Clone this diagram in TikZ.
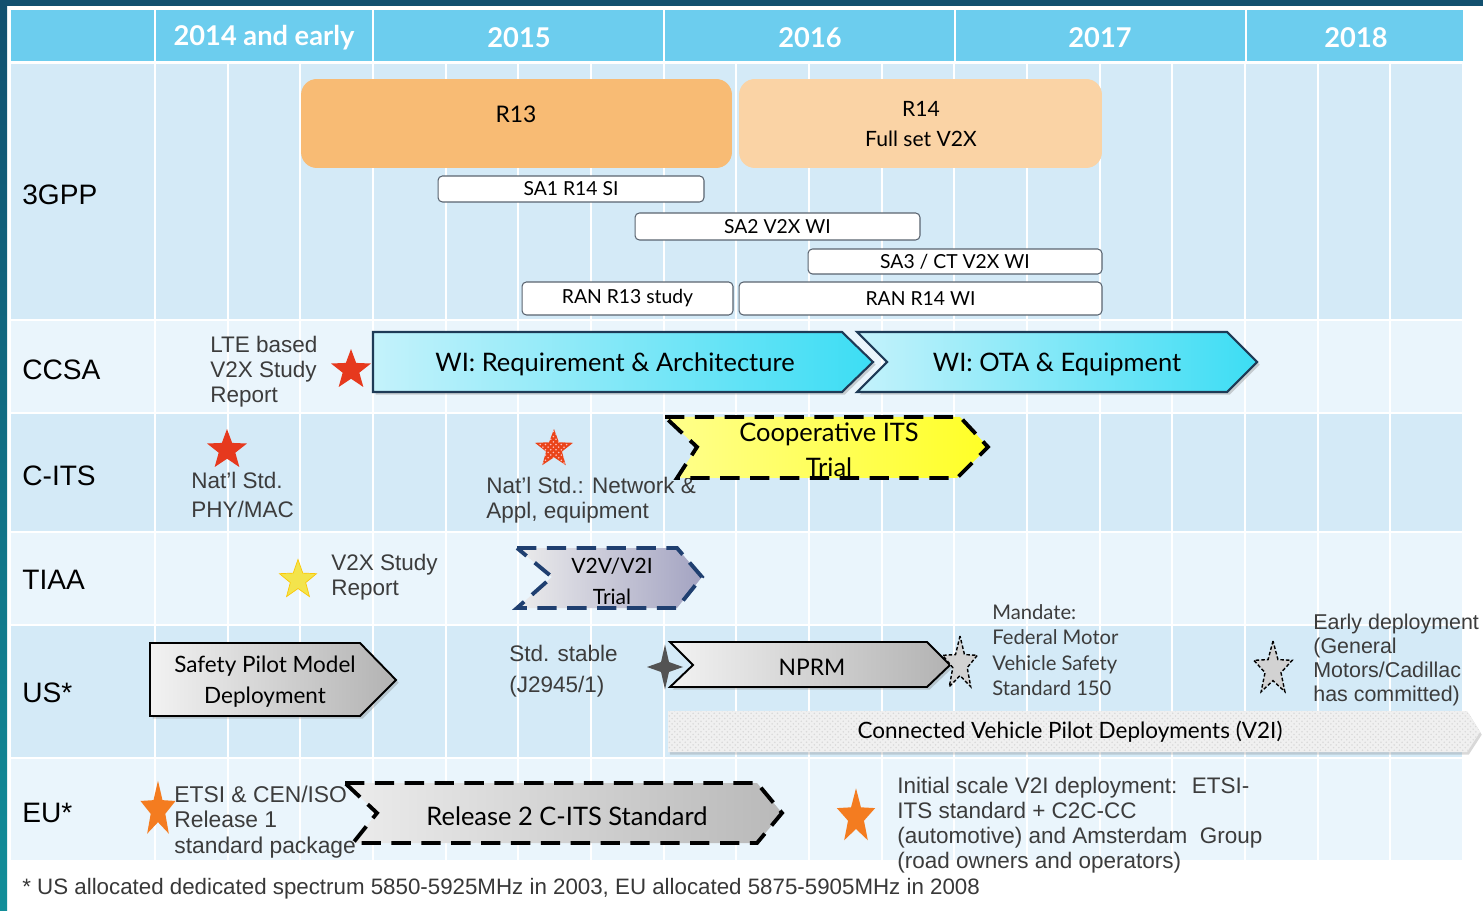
\documentclass[tikz,border=0pt]{standalone}
\usepackage{fontspec}
\setmainfont{Liberation Sans}
\newfontfamily\lato{Lato}
\usetikzlibrary{shapes.geometric,patterns,shadows}

\definecolor{framedark}{HTML}{12506F}
\definecolor{frameteal}{HTML}{128E99}
\definecolor{hdrblue}{HTML}{6CCDEE}
\definecolor{rowdark}{HTML}{D4EAF7}
\definecolor{rowlight}{HTML}{EAF5FC}
\definecolor{relorange}{HTML}{F8BB74}
\definecolor{rellight}{HTML}{FAD3A5}
\definecolor{taskborder}{HTML}{5A6470}
\definecolor{notegray}{HTML}{3C3C3C}
\definecolor{cyanlight}{HTML}{C4F2FB}
\definecolor{cyandark}{HTML}{3CDDF4}
\definecolor{arrowborder}{HTML}{1E3A56}
\definecolor{trialnavy}{HTML}{1F3F70}
\definecolor{starred}{HTML}{E6391E}
\definecolor{starorange}{HTML}{F47C20}
\definecolor{staryellow}{HTML}{F3E44C}

\begin{document}
\begin{tikzpicture}[x=0.02cm,y=-0.02cm,
    gridline/.style={white,line width=1.2pt},
    rowlabel/.style={anchor=west,inner sep=0,font=\fontsize{16}{20}\selectfont},
    year/.style={text=white,font=\lato\bfseries\fontsize{15.5}{19}\selectfont},
    note/.style={anchor=west,align=left,inner sep=0,text=notegray,font=\fontsize{12.8}{14.2}\selectfont},
    task/.style={draw=taskborder,fill=white,rounded corners=2.5pt,line width=0.6pt,inner sep=0,font=\lato\fontsize{11}{13}\selectfont},
    release/.style={rounded corners=9pt,inner sep=0},
    bigtext/.style={font=\lato\fontsize{13}{16}\selectfont},
    cyanarrow/.style={draw=arrowborder,line width=1.2pt,left color=cyanlight,right color=cyandark,
        drop shadow={shadow xshift=1.5pt,shadow yshift=-1.5pt,opacity=.35}},
    grayarrow/.style={draw=black,line width=1.1pt,left color=gray!10,right color=gray!60,
        drop shadow={shadow xshift=1.5pt,shadow yshift=-1.5pt,opacity=.35}},
    trial/.style={line width=2.2pt,dash pattern=on 11pt off 6pt},
    fivestar/.style={star,star points=5,star point ratio=2.4,inner sep=0},
    dashstar/.style={fivestar,draw=black,dash pattern=on 2pt off 1.2pt,line width=0.8pt,fill=gray!35}]

\useasboundingbox (0,0) rectangle (1483,911);
\fill[white] (0,0) rectangle (1483,911);
\shade[top color=framedark,bottom color=frameteal] (0,0) rectangle (7,911);
\fill[framedark] (0,0) rectangle (1483,6);

% header
\fill[hdrblue] (11,10) rectangle (1463,61);
\foreach \x in {155,373,664,955,1246}
    \draw[white,line width=1.5pt] (\x,10) -- (\x,61);
\node[year] (y14) at (264,38) {2014 and early};
\node[year] (y15) at (519,38) {2015};
\node[year] (y16) at (810,38) {2016};
\node[year] (y17) at (1100,38) {2017};
\node[year] (y18) at (1356,38) {2018};

% rows and grid
\foreach \ya/\yb/\c in {64/320/rowdark,320/413/rowlight,413/532/rowdark,532/625/rowlight,625/758/rowdark,758/860/rowlight}
    \fill[\c] (11,\ya) rectangle (1463,\yb);
\foreach \y in {320,413,532,625,758}
    \draw[gridline] (11,\y) -- (1463,\y);
\foreach \k in {0,...,18}
    \draw[gridline] ({155+\k*72.67},64) -- ({155+\k*72.67},860);

\node[rowlabel] (l3gpp) at (22,195) {3GPP};
\node[rowlabel] (lccsa) at (22,370) {CCSA};
\node[rowlabel] (lcits) at (22,476) {C-ITS};
\node[rowlabel] (ltiaa) at (22,580) {TIAA};
\node[rowlabel] (lus) at (22,693) {US*};
\node[rowlabel] (leu) at (22,813) {EU*};

% 3GPP
\node[release,fill=relorange,minimum width=8.62cm,minimum height=1.78cm] (r13) at (516.5,123.5) {};
\node[bigtext] (r13txt) at (516,114) {R13};
\node[release,fill=rellight,minimum width=7.26cm,minimum height=1.78cm] (r14) at (920.5,123.5) {};
\node[align=center,font=\lato\fontsize{12}{17}\selectfont] (r14txt) at (921,124) {R14\\Full set V2X};
\node[task,minimum width=5.32cm,minimum height=0.52cm] (sa1) at (571,189) {SA1 R14 SI};
\node[task,minimum width=5.7cm,minimum height=0.54cm] (sa2) at (777.5,226.5) {SA2 V2X WI};
\node[task,minimum width=5.88cm,minimum height=0.5cm] (sa3) at (955,261.5) {SA3 / CT V2X WI};
\node[task,minimum width=4.22cm,minimum height=0.66cm] (ran13) at (627.5,298.5) {RAN R13 study};
\node[task,minimum width=7.26cm,minimum height=0.66cm] (ran14) at (920.5,298.5) {RAN R14 WI};

% CCSA
\path[cyanarrow] (373,332) -- (842,332) -- (873,362) -- (842,392) -- (373,392) -- cycle;
\path[cyanarrow] (857,332) -- (1227,332) -- (1257,362) -- (1227,392) -- (857,392) -- (887,362) -- cycle;
\node[font=\lato\fontsize{14.5}{17}\selectfont] (wireq) at (615,364) {WI: Requirement \& Architecture};
\node[font=\lato\fontsize{14.5}{17}\selectfont] (wiota) at (1057,364) {WI: OTA \& Equipment};
\node[note] (lte) at (210,372) {LTE based\\V2X Study\\Report};
\node[fivestar,fill=starred,minimum size=0.84cm] (ltestar) at (351,370) {};

% C-ITS
\node[fivestar,fill=starred,minimum size=0.84cm] (phystar) at (227,450) {};
\node[note,font=\fontsize{12.8}{17}\selectfont] (phy) at (191,495) {Nat’l Std.\\PHY/MAC};
\node[fivestar,fill=starred!85!orange,minimum size=0.8cm,postaction={pattern=crosshatch dots,pattern color=white!75!red}] (netstar) at (554,449) {};
\node[note] (net) at (486,500) {Nat’l Std.: Network \&\\Appl, equipment};
\path[trial,draw=black,left color=yellow!45,right color=yellow!85] (665,417) -- (960,417) -- (988,447) -- (957,478) -- (677,478) -- (697,447) -- cycle;
\node[align=center,font=\lato\fontsize{14.5}{19.8}\selectfont] (coop) at (829,450) {Cooperative ITS\\Trial};

% TIAA
\node[fivestar,fill=staryellow,draw=yellow!60!orange,minimum size=0.82cm,xscale=0.95] (tiaastar) at (298,580) {};
\node[note] (tiaarep) at (331,577) {V2X Study\\Report};
\path[trial,draw=trialnavy,left color=gray!15,right color=blue!20!gray!60] (517,548) -- (677,548) -- (702,577) -- (677,608) -- (517,608) -- (552,577) -- cycle;
\node[align=center,font=\lato\fontsize{12}{17.6}\selectfont] (v2v) at (612,581) {V2V/V2I\\Trial};

% US
\path[grayarrow] (150,643) -- (360,643) -- (396,680) -- (360,716) -- (150,716) -- cycle;
\node[align=center,font=\lato\fontsize{12.8}{17.6}\selectfont] (spmd) at (265,682) {Safety Pilot Model\\Deployment};
\node[note,font=\fontsize{12.8}{18}\selectfont] (stable) at (509,671) {Std. stable\\(J2945/1)};
\path[grayarrow] (670,642) -- (927,642) -- (950,665) -- (927,687) -- (670,687) -- (693,665) -- cycle;
\node[star,star points=4,star point ratio=3.2,inner sep=0,fill=gray!65!black,minimum size=0.9cm,xscale=0.8] (stablestar) at (665,667) {};
\node[bigtext] (nprm) at (812,667) {NPRM};
\node[dashstar,minimum size=1.12cm,xscale=0.65] (mandstar) at (960,664) {};
\node[note,font=\lato\fontsize{11.5}{14.5}\selectfont] (mand) at (992,650) {Mandate:\\Federal Motor\\Vehicle Safety\\Standard 150};
\node[dashstar,minimum size=1.12cm,xscale=0.72] (earlystar) at (1273,669) {};
\node[note,font=\fontsize{12.2}{13.6}\selectfont] (early) at (1313,660) {Early deployment\\(General\\Motors/Cadillac\\has committed)};
\path[fill=gray!12,postaction={pattern=crosshatch dots,pattern color=gray!30},
    drop shadow={shadow xshift=1pt,shadow yshift=-1.5pt,opacity=.3}]
    (668,711) -- (1467,711) -- (1480,732) -- (1467,752) -- (668,752) -- cycle;
\node[font=\lato\fontsize{12.8}{14}\selectfont] (cvpd) at (1070,732) {Connected Vehicle Pilot Deployments (V2I)};

% EU
\path[trial,draw=black,left color=gray!15,right color=gray!55] (345,783) -- (757,783) -- (782,813) -- (757,843) -- (353,843) -- (377,813) -- cycle;
\node[font=\lato\fontsize{14.5}{16}\selectfont] (rel2) at (567,816) {Release 2 C-ITS Standard};
\node[fivestar,fill=starorange,minimum size=1.17cm,xscale=0.63] (etsistar) at (158,810) {};
\node[note,font=\fontsize{13}{14.5}\selectfont] (etsi) at (174,822) {ETSI \& CEN/ISO\\Release 1\\standard package};
\node[fivestar,fill=starorange,minimum size=1.15cm,xscale=0.7] (v2istar) at (856,817) {};
\node[note] (v2i) at (897,825) {Initial scale V2I deployment:~ ETSI-\\ITS standard + C2C-CC\\(automotive) and Amsterdam~ Group\\(road owners and operators)};

% footnote
\node[anchor=west,inner sep=0,text=black!78,font=\fontsize{12.7}{14}\selectfont] (foot) at (22,889)
    {* US allocated dedicated spectrum 5850-5925MHz in 2003, EU allocated 5875-5905MHz in 2008};
\end{tikzpicture}
\end{document}
